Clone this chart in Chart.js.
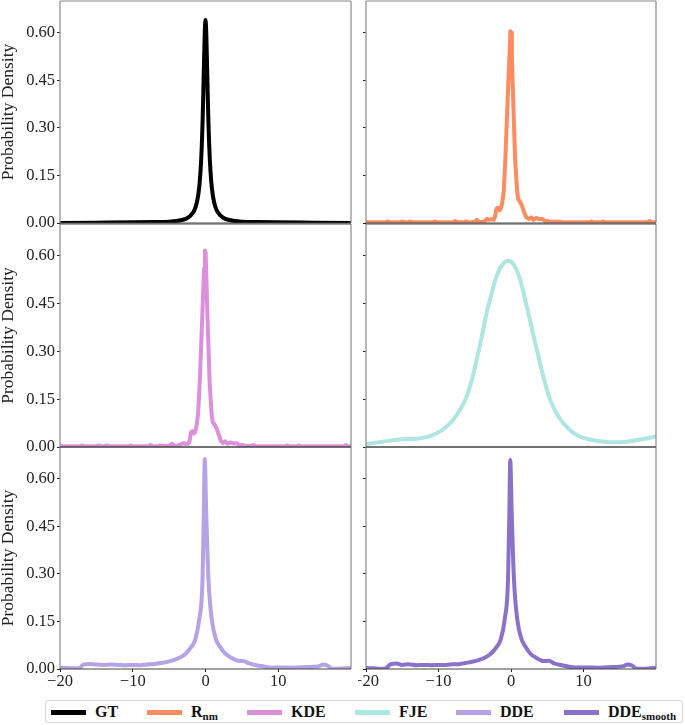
<!DOCTYPE html>
<html>
<head>
<meta charset="utf-8">
<script src="https://cdn.jsdelivr.net/npm/chart.js@4.4.0/dist/chart.umd.min.js"></script>
<style>
  body { margin: 0; background: #fff; width: 685px; height: 725px; position: relative; overflow: hidden; }
  canvas { position: absolute; }
  #legend { position: absolute; left: 45px; top: 700px; width: 638px; height: 23px; border: 1px solid #d6d6d6; border-radius: 3px; box-sizing: border-box;
    font-family: 'Liberation Serif', serif; font-weight: bold; font-size: 16px; color: #111; }
  .sw { position: absolute; top: 9px; width: 35px; height: 5px; }
  .lb { position: absolute; top: 1px; line-height: 20px; white-space: nowrap; }
  .lb sub { font-size: 11px; vertical-align: -3px; line-height: 0; }
</style>
</head>
<body>
<canvas id="p0"></canvas>
<canvas id="p1"></canvas>
<canvas id="p2"></canvas>
<canvas id="p3"></canvas>
<canvas id="p4"></canvas>
<canvas id="p5"></canvas>
<div id="legend"></div>
<script>
// shared axes
const xTicks = [-20, -10, 0, 10];
const yTicks = [0, 0.15, 0.30, 0.45, 0.60];
const yTitle = 'Probability Density';

// series names (html for subscripts) and colours
const names = ['GT', 'R<sub>nm</sub>', 'KDE', 'FJE', 'DDE', 'DDE<sub>smooth</sub>'];
const colors = ['#000000', '#ff8c61', '#dc90dc', '#aee6e2', '#b5a3e5', '#8a72ca'];

// [x, density]
const gtPoints = [[-20,0.000],[-15,0.001],[-10,0.002],[-7,0.003],[-5,0.004],[-4,0.006],[-3,0.011],[-2.5,0.016],[-2,0.025],
  [-1.5,0.042],[-1.2,0.064],[-1,0.088],[-0.8,0.128],[-0.6,0.197],[-0.5,0.250],[-0.4,0.320],[-0.3,0.410],[-0.2,0.512],
  [-0.1,0.602],[0,0.640],[0.1,0.602],[0.2,0.512],[0.3,0.410],[0.4,0.320],[0.5,0.250],[0.6,0.197],[0.8,0.128],[1,0.088],
  [1.2,0.064],[1.5,0.042],[2,0.025],[2.5,0.016],[3,0.011],[4,0.006],[5,0.004],[7,0.003],[10,0.002],[15,0.001],[20,0.000]];

const rnmPoints = [[-20,0.002],[-17.3,0.002],[-17.0,0.005],[-16.7,0.002],[-15.3,0.002],[-15.0,0.005],[-14.6,0.002],
  [-14.2,0.002],[-13.9,0.005],[-13.5,0.002],[-10.8,0.002],[-10.5,0.005],[-10.2,0.002],[-8.0,0.002],[-7.7,0.006],
  [-7.3,0.002],[-6.5,0.002],[-6.2,0.005],[-5.8,0.002],[-5.0,0.004],[-4.7,0.010],[-4.4,0.003],[-4.0,0.004],[-3.6,0.006],
  [-3.3,0.013],[-3.0,0.010],[-2.7,0.012],[-2.4,0.010],[-2.2,0.020],[-2.0,0.045],[-1.8,0.048],[-1.6,0.040],[-1.4,0.047],
  [-1.2,0.065],[-1.0,0.100],[-0.78,0.200],[-0.46,0.390],[-0.18,0.546],[-0.08,0.605],[0.02,0.600],[0.12,0.520],
  [0.3,0.390],[0.57,0.200],[0.85,0.100],[1.0,0.075],[1.2,0.068],[1.5,0.055],[1.8,0.035],[2.1,0.018],[2.5,0.013],
  [2.8,0.018],[3.1,0.010],[3.5,0.016],[3.9,0.012],[4.3,0.013],[4.7,0.006],[5.1,0.006],[5.5,0.003],[6.0,0.004],
  [6.8,0.004],[7.5,0.002],[10.8,0.002],[11.1,0.005],[11.4,0.002],[12.4,0.002],[12.7,0.005],[13.0,0.002],
  [18.8,0.002],[19.1,0.006],[19.4,0.002],[20,0.002]];

const kdePoints = [[-20,0.002],[-17.3,0.002],[-17.0,0.005],[-16.6,0.002],[-15.0,0.002],[-14.7,0.005],[-14.3,0.002],
  [-13.9,0.002],[-13.6,0.005],[-13.2,0.002],[-10.6,0.002],[-10.3,0.005],[-10.0,0.002],[-7.9,0.002],[-7.6,0.006],
  [-7.2,0.002],[-6.5,0.002],[-6.2,0.005],[-5.9,0.003],[-5.0,0.004],[-4.6,0.010],[-4.2,0.003],[-3.8,0.005],[-3.4,0.008],
  [-3.0,0.012],[-2.7,0.009],[-2.4,0.010],[-2.2,0.018],[-2.0,0.045],[-1.8,0.050],[-1.6,0.043],[-1.4,0.048],[-1.2,0.070],
  [-1.0,0.110],[-0.78,0.210],[-0.46,0.400],[-0.2,0.560],[-0.08,0.617],[0.02,0.610],[0.12,0.530],[0.3,0.390],
  [0.57,0.200],[0.85,0.100],[1.0,0.078],[1.2,0.072],[1.5,0.060],[1.8,0.040],[2.1,0.020],[2.4,0.012],[2.7,0.018],
  [3.0,0.010],[3.4,0.014],[3.9,0.011],[4.3,0.012],[4.7,0.005],[5.2,0.006],[5.6,0.003],[6.3,0.004],[6.6,0.006],
  [7.0,0.002],[10.9,0.002],[11.2,0.005],[11.5,0.002],[12.5,0.002],[12.8,0.005],[13.1,0.002],[19.0,0.002],
  [19.3,0.006],[19.6,0.002],[20,0.002]];

const fjePoints = [[-20,0.009],[-18,0.016],[-16.7,0.020],[-15,0.024],[-13,0.026],[-11.5,0.032],[-10.25,0.043],
  [-9,0.062],[-8,0.085],[-7,0.118],[-6.1,0.159],[-5.4,0.210],[-4.73,0.275],[-4.0,0.350],[-3.35,0.422],[-2.6,0.488],
  [-1.97,0.538],[-1.2,0.572],[-0.37,0.585],[0.4,0.572],[1.24,0.527],[1.9,0.468],[2.6,0.400],[3.3,0.330],[4.0,0.264],
  [4.7,0.200],[5.4,0.148],[6.3,0.105],[7.2,0.075],[8.3,0.050],[9.5,0.033],[11,0.023],[13.2,0.016],[15,0.015],
  [16.4,0.018],[18,0.024],[20,0.033]];

const ddePoints = [[-20,0.004],[-19,0.003],[-18,0.002],[-17.3,0.003],[-16.8,0.014],[-16,0.016],[-15,0.014],[-14,0.013],
  [-13,0.014],[-12,0.013],[-11,0.012],[-10,0.013],[-9,0.012],[-8,0.014],[-7,0.016],[-6.4,0.018],[-5.5,0.021],
  [-4.5,0.027],[-3.5,0.036],[-2.7,0.049],[-2.0,0.068],[-1.42,0.092],[-0.87,0.155],[-0.41,0.281],[-0.23,0.491],
  [-0.1,0.662],[0.1,0.491],[0.41,0.281],[0.87,0.155],[1.47,0.092],[2.0,0.070],[2.7,0.049],[3.5,0.036],[4.5,0.026],
  [5.2,0.025],[6,0.018],[7,0.012],[8,0.008],[9,0.004],[10,0.005],[12,0.004],[14,0.006],[15.5,0.008],[16.2,0.014],
  [16.8,0.010],[17.3,0.002],[18,0.001],[20,0.003]];

const ddeSmoothPoints = [[-20,0.003],[-19,0.002],[-18,0.001],[-17.2,0.003],[-16.6,0.015],[-15.8,0.017],[-15,0.013],
  [-14.2,0.015],[-13,0.012],[-12,0.013],[-11,0.012],[-10,0.013],[-9,0.013],[-8,0.015],[-7,0.016],[-6.3,0.019],
  [-5.5,0.022],[-4.5,0.028],[-3.5,0.037],[-2.7,0.050],[-2.0,0.069],[-1.42,0.093],[-0.87,0.156],[-0.41,0.283],
  [-0.23,0.490],[-0.1,0.659],[0.1,0.490],[0.41,0.282],[0.87,0.155],[1.47,0.093],[2.0,0.070],[2.7,0.048],[3.5,0.035],
  [4.5,0.025],[5.2,0.026],[6,0.017],[7,0.012],[8,0.007],[9,0.005],[10,0.005],[12,0.004],[14,0.006],[15.5,0.009],
  [16.1,0.014],[16.7,0.011],[17.2,0.002],[18,0.001],[20,0.004]];

const series = [gtPoints, rnmPoints, kdePoints, fjePoints, ddePoints, ddeSmoothPoints];
const smooth = [true, false, false, true, true, true];

const FONT = 'Liberation Serif';
const rows = [{ top: 1, bottom: 223 }, { top: 224, bottom: 447 }, { top: 447, bottom: 669 }];
const cols = [{ left: 60, right: 351, axisW: 60 }, { left: 366, right: 656, axisW: 8 }];
const xAxisH = 24;
const overhang = 11; // room below upper panels so the 0.00 label is not cut

const framePlugin = {
  id: 'frame',
  afterDatasetsDraw(chart) {
    const { ctx, chartArea: a } = chart;
    const idx = chart.options.plugins.frame.row;
    ctx.save();
    ctx.lineWidth = 1.2;
    ctx.strokeStyle = '#8a8a8a';
    ctx.beginPath();
    ctx.moveTo(a.left, a.top); ctx.lineTo(a.left, a.bottom);
    ctx.moveTo(a.right, a.top); ctx.lineTo(a.right, a.bottom);
    if (idx === 0) { ctx.moveTo(a.left, a.top); ctx.lineTo(a.right, a.top); }
    ctx.stroke();
    ctx.strokeStyle = '#444';
    ctx.beginPath();
    if (idx !== 0) { ctx.moveTo(a.left, a.top); ctx.lineTo(a.right, a.top); }
    ctx.moveTo(a.left, a.bottom); ctx.lineTo(a.right, a.bottom);
    ctx.stroke();
    ctx.restore();
  }
};

series.forEach((pts, i) => {
  const r = Math.floor(i / 2), c = i % 2;
  const row = rows[r], col = cols[c];
  const last = r === 2;
  const cv = document.getElementById('p' + i);
  const w = col.axisW + (col.right - col.left) + 1;
  const h = (row.bottom - row.top) + 1 + (last ? xAxisH : overhang);
  cv.width = w; cv.height = h;
  cv.style.left = (col.left - col.axisW) + 'px';
  cv.style.top = (row.top - 1) + 'px';
  cv.style.width = w + 'px'; cv.style.height = h + 'px';

  new Chart(cv, {
    type: 'line',
    data: {
      datasets: [{
        data: pts.map(p => ({ x: p[0], y: p[1] })),
        borderColor: colors[i],
        borderWidth: 4,
        pointRadius: 0,
        borderJoinStyle: 'round',
        borderCapStyle: 'round',
        cubicInterpolationMode: smooth[i] ? 'monotone' : 'default',
        tension: 0,
        fill: false
      }]
    },
    options: {
      responsive: false,
      animation: false,
      events: [],
      layout: { autoPadding: false, padding: { top: 1, right: 1, bottom: last ? 0 : overhang, left: 0 } },
      plugins: { legend: { display: false }, tooltip: { enabled: false }, frame: { row: r } },
      scales: {
        x: {
          type: 'linear', min: -20, max: 20,
          display: last,
          afterFit: s => {
            s.height = last ? xAxisH : 0;
            s.paddingLeft = 0; s.paddingRight = 0;
          },
          afterBuildTicks: s => { s.ticks = xTicks.map(v => ({ value: v })); },
          grid: { drawOnChartArea: false, drawTicks: true, tickLength: 3, color: '#222' },
          border: { display: false },
          ticks: {
            padding: 0, maxRotation: 0, color: '#222',
            font: { family: FONT, size: 16.5 },
            callback: v => v < 0 ? '\u2212' + Math.abs(v) : String(v)
          }
        },
        y: {
          type: 'linear', min: 0, max: 0.70,
          afterFit: s => {
            s.width = col.axisW;
            s.paddingTop = 0; s.paddingBottom = 0;
          },
          afterBuildTicks: s => { s.ticks = yTicks.map(v => ({ value: v })); },
          grid: { drawOnChartArea: false, drawTicks: true, tickLength: 3, color: '#222' },
          border: { display: false },
          ticks: {
            display: c === 0, padding: 2, color: '#222',
            font: { family: FONT, size: 16.5 },
            callback: v => v.toFixed(2)
          },
          title: {
            display: c === 0, text: yTitle, color: '#222',
            font: { family: FONT, size: 17.5, lineHeight: 1 },
            padding: { top: 0, bottom: 0 }
          }
        }
      }
    },
    plugins: [framePlugin]
  });
});

// legend
const swLeft = [50, 146, 246, 354, 455, 563];
const legend = document.getElementById('legend');
names.forEach((n, i) => {
  const sw = document.createElement('div');
  sw.className = 'sw';
  sw.style.left = (swLeft[i] - 45) + 'px';
  sw.style.background = colors[i];
  legend.appendChild(sw);
  const lb = document.createElement('div');
  lb.className = 'lb';
  lb.style.left = (swLeft[i] - 45 + 44) + 'px';
  lb.innerHTML = n;
  legend.appendChild(lb);
});
</script>
</body>
</html>
